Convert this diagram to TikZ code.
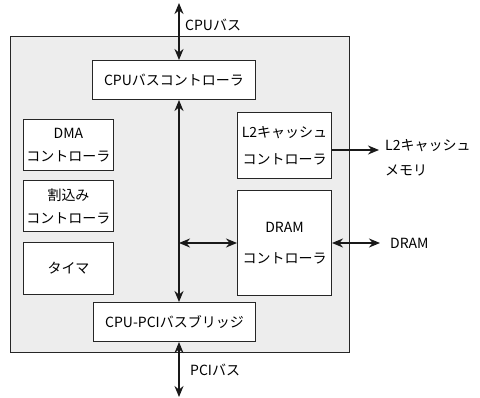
\documentclass[tikz,border=0pt]{standalone}
\usepackage{fontspec}
\setmainfont{Noto Sans CJK JP}
\usetikzlibrary{arrows.meta}
\begin{document}
\begin{tikzpicture}[x=1pt,y=-1pt,
  blk/.style={draw=black!85,line width=1pt,fill=white,inner sep=0pt,align=center,font=\fontsize{14}{23}\selectfont},
  lbl/.style={inner sep=0pt,align=left,font=\fontsize{14}{25}\selectfont},
  bus/.style={line width=2.4pt,black!90},
  bi/.style={bus,{Stealth[length=11pt,width=9pt]}-{Stealth[length=11pt,width=9pt]}},
  uni/.style={bus,-{Stealth[length=11pt,width=9pt]}}]
\useasboundingbox (0,0) rectangle (480,398);
\node[draw=black!85,line width=1pt,fill=black!7,minimum width=339pt,minimum height=316pt,inner sep=0pt,anchor=north west] (chip) at (10,36) {};
\node[blk,minimum width=163pt,minimum height=39pt,anchor=north west] (cpuc) at (92,60) {CPUバスコントローラ};
\node[blk,minimum width=90pt,minimum height=51pt,anchor=north west] (dma) at (23,119) {DMA\\コントローラ};
\node[blk,minimum width=90pt,minimum height=51pt,anchor=north west] (irq) at (23,180) {割込み\\コントローラ};
\node[blk,minimum width=90pt,minimum height=52pt,anchor=north west] (tim) at (23,242) {タイマ};
\node[blk,minimum width=94pt,minimum height=66pt,anchor=north west,font=\fontsize{14}{27}\selectfont] (l2c) at (237,112) {L2キャッシュ\\コントローラ};
\node[blk,minimum width=94pt,minimum height=105pt,anchor=north west,font=\fontsize{14}{31}\selectfont] (dramc) at (237,190) {DRAM\\コントローラ};
\node[blk,minimum width=162pt,minimum height=39pt,anchor=north west] (br) at (93,302) {CPU-PCIバスブリッジ};
\coordinate (cputop) at (179,3);
\coordinate (pcibot) at (179,397);
\coordinate (busj) at (179,243);
\coordinate (l2end) at (379,150);
\coordinate (dramend) at (380,243);
\draw[bi] (cputop) -- (cpuc.north -| cputop);
\draw[bi] (cpuc.south -| busj) -- (br.north -| busj);
\draw[bi] (br.south -| pcibot) -- (pcibot);
\draw[bi] (busj) -- (busj -| dramc.west);
\draw[bi] (dramc.east |- dramend) -- (dramend);
\draw[uni] (l2c.east |- l2end) -- (l2end);
\node[lbl,anchor=west] (cpul) at (185,25) {CPUバス};
\node[lbl,anchor=west] (pcil) at (190,370) {PCIバス};
\node[lbl,anchor=west] (drl) at (390,243) {DRAM};
\node[lbl,anchor=north west] (l2l) at (385,139) {L2キャッシュ\\メモリ};
\end{tikzpicture}
\end{document}
